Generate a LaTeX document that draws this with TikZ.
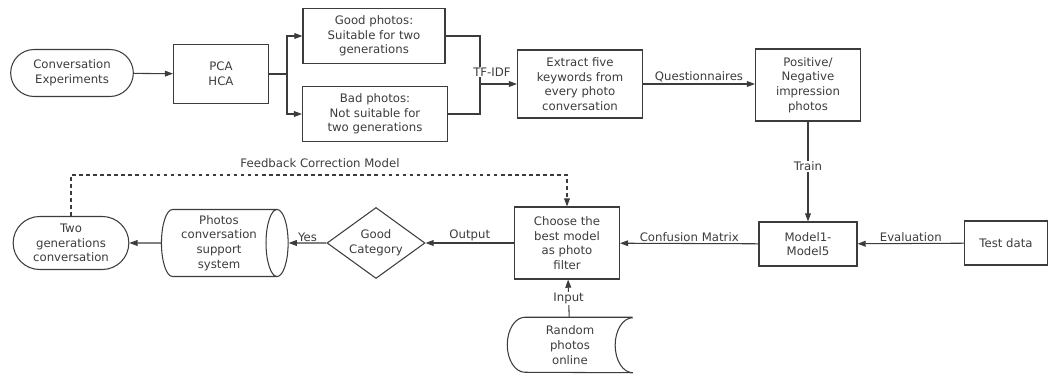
\documentclass[tikz,border=0pt]{standalone}
\usepackage{fontspec}
\setmainfont{DejaVu Sans}
\usetikzlibrary{arrows.meta,shapes.geometric,shapes.misc}
\definecolor{ink}{RGB}{60,60,60}
\tikzset{
  box/.style={draw=ink,line width=0.9pt,rectangle,align=center,inner sep=1pt,text=ink},
  pill/.style={box,rounded rectangle},
  decide/.style={box,diamond,aspect=1.4},
  store/.style={box,cylinder,shape aspect=0.4},
  flow/.style={draw=ink,line width=0.9pt,-{Triangle[length=7pt,width=5pt]}},
  lbl/.style={text=ink,inner sep=1pt},
}
\begin{document}
\begin{tikzpicture}[x=0.03cm,y=-0.03cm,font=\fontsize{10}{12.5}\selectfont]
\useasboundingbox (0,0) rectangle (1050,375);
% top row
\node[pill,minimum width=3.75cm,minimum height=1.41cm] (conv) at (72,73) {Conversation\\Experiments};
\node[box,minimum width=2.85cm,minimum height=1.77cm] (pca) at (221,74) {PCA\\HCA};
\node[box,minimum width=4.26cm,minimum height=1.65cm] (good) at (374,36) {Good photos:\\Suitable for two\\generations};
\node[box,minimum width=4.35cm,minimum height=1.65cm] (bad) at (375,114) {Bad photos:\\Not suitable for\\two generations};
\node[box,minimum width=3.75cm,minimum height=2.04cm] (extract) at (580,84) {Extract five\\keywords from\\every photo\\conversation};
\node[box,minimum width=3.15cm,minimum height=2.16cm] (posneg) at (808,85) {Positive/\\Negative\\impression\\photos};
\coordinate (split) at (287,74);
\coordinate (join) at (480,84);
% bottom row
\node[box,minimum width=2.94cm,minimum height=1.32cm] (model) at (808,244) {Model1-\\Model5};
\node[box,minimum width=2.49cm,minimum height=1.32cm] (test) at (1006,243) {Test data};
\node[box,minimum width=3.15cm,minimum height=2.16cm] (choose) at (567,243) {Choose the\\best model\\as photo\\filter};
\node[decide,minimum width=2.94cm,minimum height=2.13cm,inner sep=0pt] (cat) at (376,243) {Good\\Category};
\node[store,minimum width=2.01cm,minimum height=3.8cm,inner sep=0pt] (sys) at (219,243) {Photos\\conversation\\support\\system};
\node[pill,minimum width=3.54cm,minimum height=1.59cm] (two) at (71,243) {Two\\generations\\conversation};
\node[align=center,text=ink,minimum width=3.75cm,minimum height=1.65cm] (rand) at (570,345) {Random\\photos\\online};
\draw[draw=ink,line width=0.9pt] (rand.north east) -- ([xshift=15pt]rand.north west)
  arc[start angle=90,end angle=270,x radius=15pt,y radius=0.825cm] -- (rand.south east)
  arc[start angle=270,end angle=90,x radius=15pt,y radius=0.825cm];
\coordinate (fbc) at (567,175);
% connectors
\draw[flow] (conv) -- (pca);
\draw[draw=ink,line width=0.9pt] (pca.east) -- (split);
\draw[flow] (split) |- (good.west);
\draw[flow] (split) |- (bad.west);
\draw[draw=ink,line width=0.9pt] (good.east) -| (join);
\draw[draw=ink,line width=0.9pt] (bad.east) -| (join);
\draw[flow] (join) -- (extract.west);
\node[lbl,fill=white] (tfidf) at (492,72) {TF-IDF};
\draw[flow] (extract) -- node[lbl,above] (q) {Questionnaires} (posneg.west |- extract.east);
\draw[flow] (posneg) -- node[lbl,fill=white,pos=0.45] (train) {Train} (model);
\draw[flow] (test) -- node[lbl,above] (ev) {Evaluation} (model);
\draw[flow] (model) -- node[lbl,above] (cm) {Confusion Matrix} (choose);
\draw[flow] (rand) -- node[lbl,fill=white] (inp) {Input} (choose);
\draw[flow] (choose) -- node[lbl,above] (out) {Output} (cat);
\draw[flow] (cat) -- node[lbl,above] (yes) {Yes} (sys);
\draw[flow] (sys) -- (two);
\draw[flow,dashed] (two.north) |- (fbc) -- (choose.north);
\node[lbl] (fbm) at (320,163) {Feedback Correction Model};
\end{tikzpicture}
\end{document}
